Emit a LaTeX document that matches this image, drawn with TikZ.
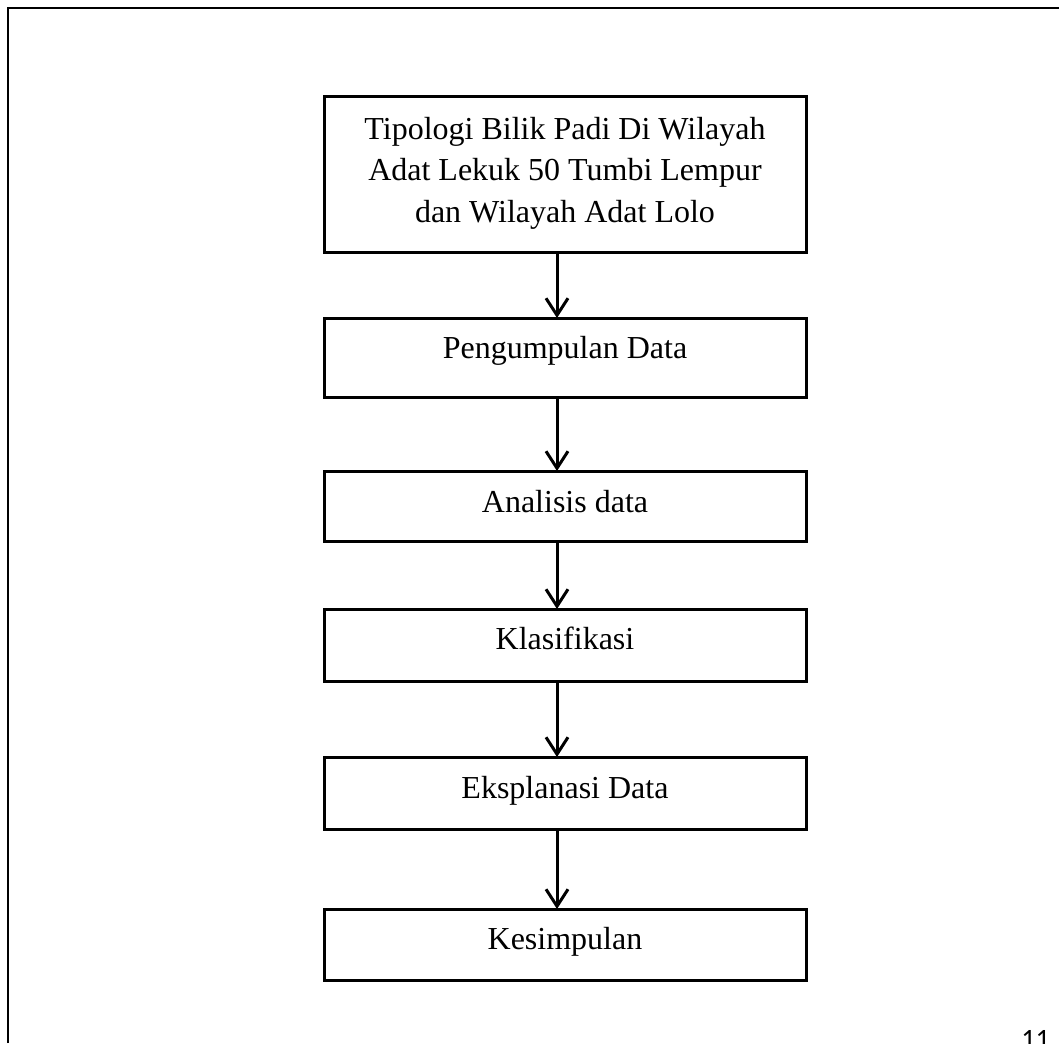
\documentclass[tikz,border=0pt]{standalone}
\usepackage{fontspec}
\setmainfont{Liberation Serif}
\newfontfamily\pagenumfont{Carlito}
\usetikzlibrary{arrows.meta}
\begin{document}
\begin{tikzpicture}[x=0.5pt,y=-0.5pt,
  box/.style={draw, line width=1.5pt, minimum width=241pt, inner sep=0pt, outer sep=0pt},
  lbl/.style={inner sep=0pt, font=\fontsize{16}{20.75}\selectfont},
  flow/.style={line width=1.5pt, -{Straight Barb[length=8.5pt,width=11pt]}}]
\useasboundingbox (0,0) rectangle (1059,1043);
% page frame
\draw[line width=1.4pt] (8,1043) -- (8,8) -- (1059,8);
% boxes
\node[box, minimum height=77.5pt] (b1) at (565,174.5) {};
\node[box, minimum height=39.5pt] (b2) at (565,357.5) {};
\node[box, minimum height=35pt] (b3) at (565,506) {};
\node[box, minimum height=36pt] (b4) at (565,645) {};
\node[box, minimum height=36pt] (b5) at (565,793) {};
\node[box, minimum height=35.5pt] (b6) at (565,944.5) {};
% labels
\node[lbl, align=center] (t1) at (565,173) {Tipologi Bilik Padi Di Wilayah\\Adat Lekuk 50 Tumbi Lempur\\dan Wilayah Adat Lolo};
\node[lbl, anchor=base] (t2) at ([yshift=-0.5pt]b2.center) {Pengumpulan Data};
\node[lbl, anchor=base] (t3) at ([yshift=-3pt]b3.center) {Analisis data};
\node[lbl, anchor=base] (t4) at ([yshift=-2pt]b4.center) {Klasifikasi};
\node[lbl, anchor=base] (t5) at ([yshift=-2.5pt]b5.center) {Eksplanasi Data};
\node[lbl, anchor=base] (t6) at ([yshift=-2.5pt]b6.center) {Kesimpulan};
% connectors
\draw[flow] ([xshift=-4pt]b1.south) -- ([xshift=-4pt]b2.north);
\draw[flow] ([xshift=-4pt]b2.south) -- ([xshift=-4pt]b3.north);
\draw[flow] ([xshift=-4pt]b3.south) -- ([xshift=-4pt]b4.north);
\draw[flow] ([xshift=-4pt]b4.south) -- ([xshift=-4pt]b5.north);
\draw[flow] ([xshift=-4pt]b5.south) -- ([xshift=-4pt]b6.north);
% page number
\node[inner sep=0pt, anchor=base west, font=\pagenumfont\fontsize{14}{16}\selectfont] (pg) at (1021,1048) {11};
\end{tikzpicture}
\end{document}
